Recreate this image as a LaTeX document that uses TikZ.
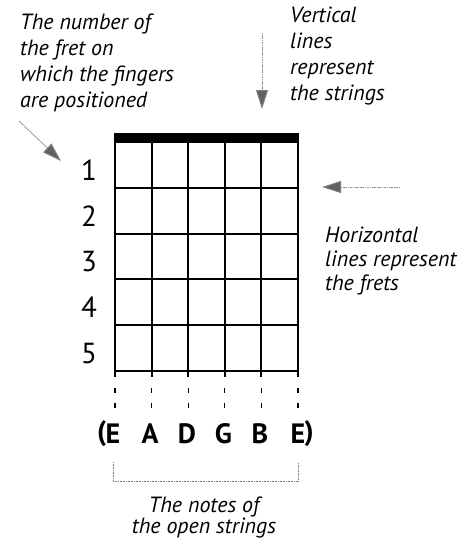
\documentclass[tikz,border=0pt]{standalone}
\usepackage{fontspec}
\setmainfont{PT Sans}
\usetikzlibrary{arrows.meta}
\tikzset{
  grid/.style={line width=1.9pt, line cap=rect},
  fretnum/.style={font=\fontsize{29}{29}\selectfont, inner sep=0pt},
  note/.style={font=\fontsize{28}{28}\selectfont\bfseries, inner sep=0pt},
  label/.style={font=\fontsize{22}{26}\selectfont\itshape, align=left, inner sep=0pt, anchor=base west},
  pointer/.style={draw=black!40, line width=1pt, dash pattern=on 1.2pt off 0.5pt,
     -{Triangle[length=19pt,width=12pt,fill=black!62,color=black!50]}},
  openline/.style={line width=1.2pt, dash pattern=on 5pt off 9.5pt},
  brace/.style={draw=black!50, line width=0.7pt, dash pattern=on 1pt off 0.6pt},
}
\begin{document}
\begin{tikzpicture}[x=1pt,y=-1pt]
\useasboundingbox (0,0) rectangle (475,546);
% grid coordinates
\foreach \i in {0,...,5} {
  \pgfmathsetmacro{\xx}{115+36.6*\i}
  \coordinate (t\i) at (\xx,142);
  \coordinate (b\i) at (\xx,376);
  \coordinate (d\i) at (\xx,388);
  \coordinate (e\i) at (\xx,409);
}
\foreach \j in {0,...,5} {
  \pgfmathsetmacro{\yy}{142+45.8*\j}
  \coordinate (l\j) at (115,\yy);
  \coordinate (r\j) at (298,\yy);
}
% nut
\fill (114,133) rectangle (299,142.5);
% strings
\foreach \i in {0,...,5} \draw[grid] (t\i) -- (b\i);
% frets
\foreach \j in {1,...,5} \draw[grid] (l\j) -- (r\j);
% open-string dashes
\foreach \i in {0,...,5} \draw[openline] (d\i) -- (e\i);
% fret numbers
\foreach \j/\n in {1/1,2/2,3/3,4/4,5/5} {
  \pgfmathsetmacro{\yy}{142+45.8*\j-45.8/2+5}
  \node[fretnum] (fn\n) at (89,\yy) {\n};
}
% notes
\node[note] (n1) at (113,434) {E};
\node[note] (n2) at (150,434) {A};
\node[note] (n3) at (187,434) {D};
\node[note] (n4) at (223.5,434) {G};
\node[note] (n5) at (260,434) {B};
\node[note] (n6) at (298,434) {E};
\node[note, anchor=east] (po) at ([xshift=1pt]n1.west) {(};
\node[note, anchor=west] (pc) at ([xshift=-1pt]n6.east) {)};
% bracket
\coordinate (bl) at (113,462);
\coordinate (bl2) at (113,481);
\coordinate (br2) at (298,481);
\coordinate (br) at (298,463);
\draw[brace] (bl) -- (bl2) -- (br2) -- (br);
% labels (anchored at the baseline of the last line)
\node[label] (lt) at (20,107) {The number of\\the fret on\\which the fingers\\are positioned};
\node[label, font=\fontsize{22}{25.7}\selectfont\itshape] (rt) at (290,100) {Vertical\\lines\\represent\\the strings};
\node[label, font=\fontsize{22}{24}\selectfont\itshape] (rh) at (325,290) {Horizontal\\lines represent\\the frets};
\node[label, font=\fontsize{22}{21}\selectfont\itshape, align=center, anchor=base] (bt) at (204,533) {The notes of\\the open strings};
% pointers
\coordinate (a1s) at (19,121);
\coordinate (a1e) at (61,161);
\draw[pointer] (a1s) -- (a1e);
\coordinate (a2s) at (262,33);
\coordinate (a2e) at (262,109);
\draw[pointer] (a2s) -- (a2e);
\coordinate (a3s) at (400,187);
\coordinate (a3e) at (322,187);
\draw[pointer] (a3s) -- (a3e);
\end{tikzpicture}
\end{document}
